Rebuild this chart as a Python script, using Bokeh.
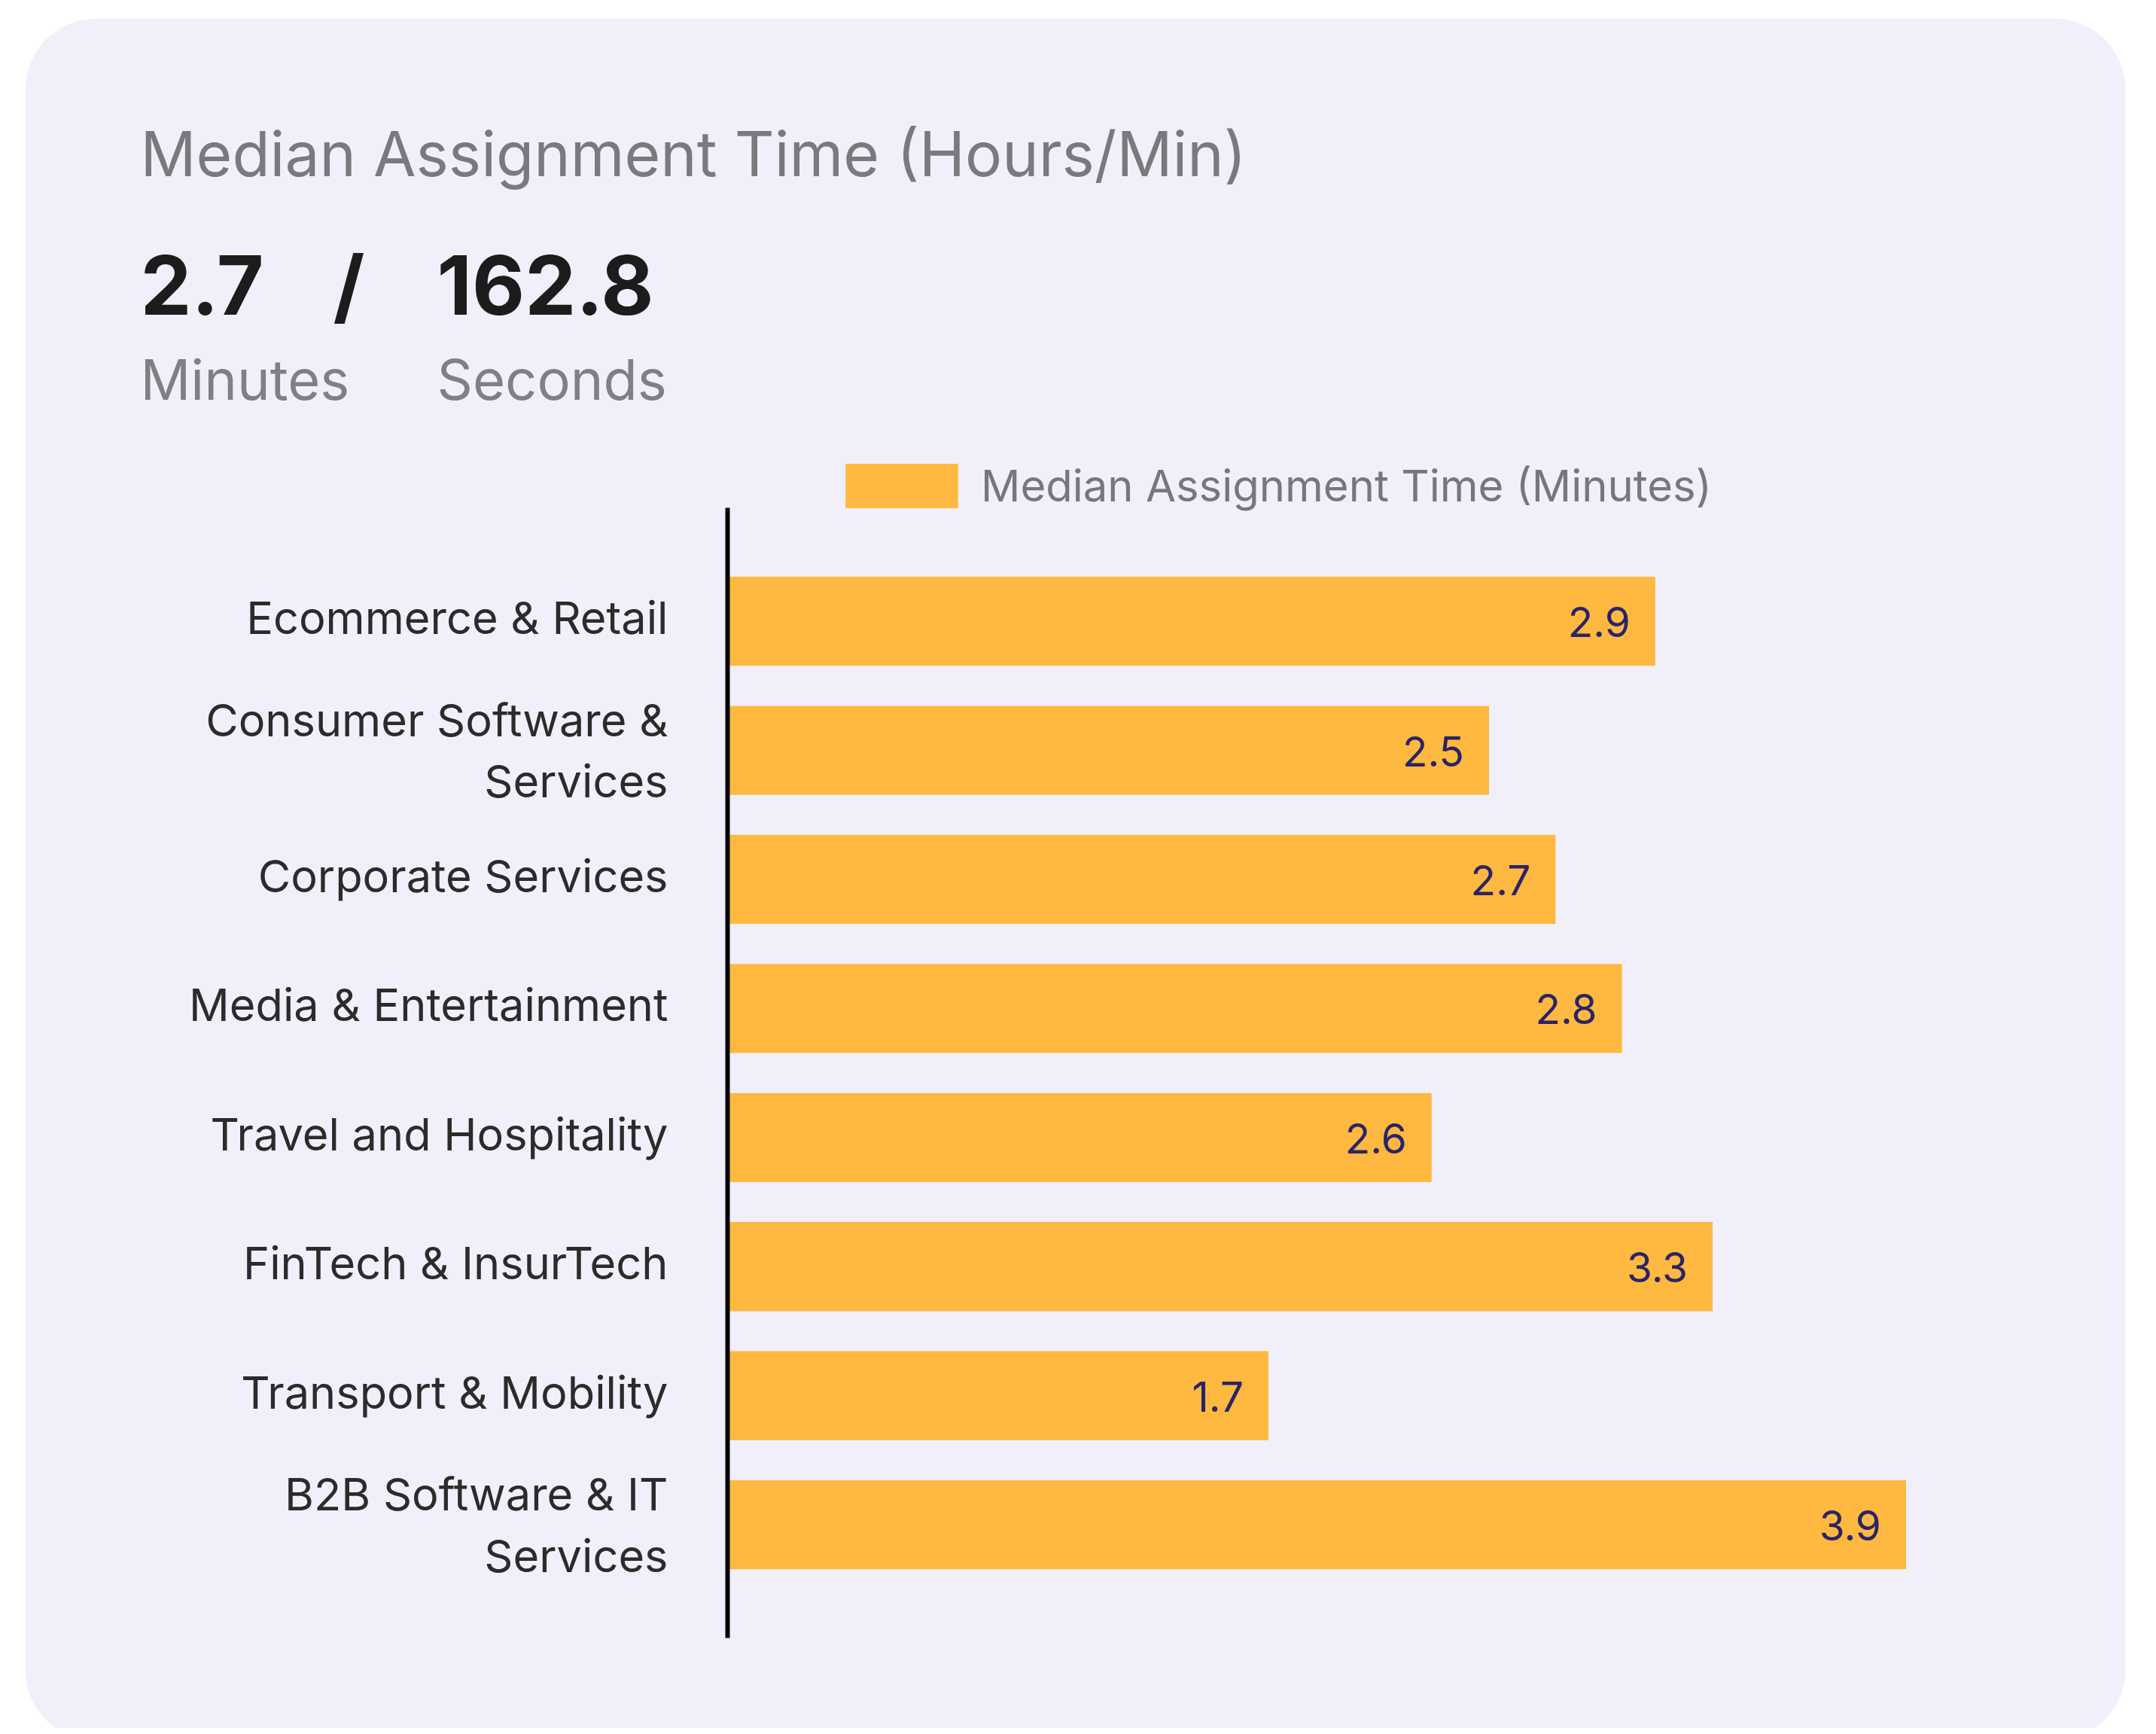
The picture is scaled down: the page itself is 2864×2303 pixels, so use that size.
from bokeh.plotting import figure
from bokeh.models import ColumnDataSource, Range1d, Label, BoxAnnotation, Legend, LegendItem, FixedTicker
from bokeh.core.properties import value
from bokeh.embed import file_html
from bokeh.resources import INLINE

# ---- data ----
categories = [
    "Ecommerce & Retail",
    "Consumer Software &\nServices",
    "Corporate Services",
    "Media & Entertainment",
    "Travel and Hospitality",
    "FinTech & InsurTech",
    "Transport & Mobility",
    "B2B Software & IT\nServices",
]
bar_values = [3.07, 2.52, 2.74, 2.96, 2.33, 3.26, 1.79, 3.90]
value_labels = ["2.9", "2.5", "2.7", "2.8", "2.6", "3.3", "1.7", "3.9"]
series_name = "Median Assignment Time (Minutes)"
headline_minutes = "2.7"
headline_seconds = "162.8"

FONT = "Inter"
W, H = 2848, 2295
AXIS_X = 966            # canvas x of value 0
PX_PER_UNIT = 401.4
TOP_C, BAND = 824.6, 171.43   # canvas y of first bar centre, band size
n = len(categories)
pos = [n - 1 - i for i in range(n)]   # top category gets highest position
y_end = (n - 1) + TOP_C / BAND
y_start = y_end - H / BAND

p = figure(
    width=W, height=H,
    x_range=Range1d(-AXIS_X / PX_PER_UNIT, (W - AXIS_X) / PX_PER_UNIT),
    y_range=Range1d(y_start, y_end),
    output_backend="svg", toolbar_location=None,
    min_border=0, min_border_left=0, min_border_right=0, min_border_top=0, min_border_bottom=0,
    background_fill_color=None, border_fill_color="white",
    outline_line_color=None,
)

def sy(y):
    return H - y

# card
card = BoxAnnotation(
    left=33, right=2823, top=sy(24), bottom=sy(2312),
    left_units="screen", right_units="screen", top_units="screen", bottom_units="screen",
    fill_color="#F1F0FA", fill_alpha=1.0, line_color=None, border_radius=95, level="underlay",
)
p.add_layout(card)

src = ColumnDataSource(dict(pos=pos, val=bar_values, lab=value_labels))
r = p.hbar(y="pos", right="val", left=0, height=0.69, source=src,
           fill_color="#FFB840", line_color=None)

p.text(x="val", y="pos", text="lab", source=src, x_offset=-33, y_offset=1,
       text_align="right", text_baseline="middle",
       text_font=value(FONT), text_font_size="55px", text_color="#2A2466")

# axes
p.xaxis.visible = False
p.xgrid.visible = False
p.ygrid.visible = False
NUDGE = 0.03   # single-line labels sit a touch above the bar centre
tick_pos = [pp if "\n" in c else pp + NUDGE for pp, c in zip(pos, categories)]
ya = p.yaxis[0]
ya.fixed_location = 0
ya.bounds = (-0.877, (n - 1) + 0.878)
ya.ticker = FixedTicker(ticks=tick_pos)
ya.major_label_overrides = {tp: c for tp, c in zip(tick_pos, categories)}
ya.axis_line_color = "black"
ya.axis_line_width = 6
ya.major_tick_line_color = None
ya.minor_tick_line_color = None
ya.major_label_text_font = FONT
ya.major_label_text_font_size = "59.5px"
ya.major_label_text_color = "#2B2B2B"
ya.major_label_text_line_height = 1.13
ya.major_label_standoff = 73

# legend
legend = Legend(items=[LegendItem(label=series_name, renderers=[r])],
                location=(1104, sy(682)), orientation="horizontal",
                glyph_width=187, glyph_height=74, label_standoff=12,
                padding=0, margin=0, border_line_color=None, background_fill_alpha=0,
                label_text_font=FONT, label_text_font_size="58px", label_text_color="#77777B")
p.add_layout(legend, "center")

# titles
p.add_layout(Label(x=186, y=sy(204), x_units="screen", y_units="screen",
                   text="Median Assignment Time (Hours/Min)", text_font=FONT,
                   text_font_size="82px", text_color="#7A7A7E", text_baseline="alphabetic"))
for txt, xx in [(headline_minutes, 186), ("/", 442), (headline_seconds, 580)]:
    p.add_layout(Label(x=xx, y=sy(378), x_units="screen", y_units="screen",
                       text=txt, text_font=FONT, text_font_size="108px", text_font_style="bold",
                       text_color="#1C1C1C", text_baseline="alphabetic"))
for txt, xx in [("Minutes", 186), ("Seconds", 580)]:
    p.add_layout(Label(x=xx, y=sy(503), x_units="screen", y_units="screen",
                       text=txt, text_font=FONT, text_font_size="74px",
                       text_color="#808084", text_baseline="alphabetic"))

open("out.html", "w").write(file_html(p, INLINE))
